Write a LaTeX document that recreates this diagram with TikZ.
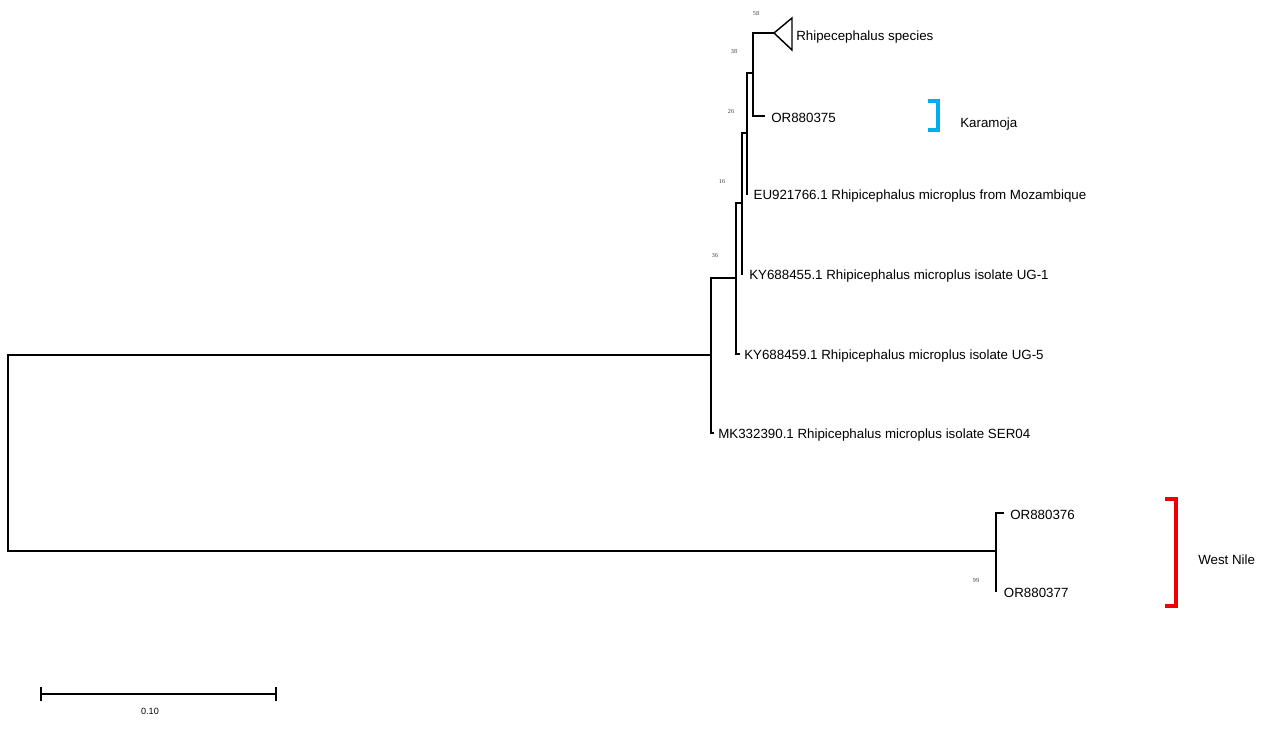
\documentclass[tikz,border=0pt]{standalone}
\usepackage{fontspec}
\setmainfont{Liberation Sans}
\newfontfamily\bootfont{Liberation Serif}
\usetikzlibrary{positioning}
\definecolor{karablue}{RGB}{0,174,239}
\definecolor{nilered}{RGB}{240,0,0}

\tikzset{
  branch/.style={line width=1.1pt},
  taxon/.style={inner sep=0pt, yshift=-1.5pt, font=\fontsize{10}{12}\selectfont},
  boot/.style={inner sep=0pt, font=\bootfont\fontsize{4.6}{5}\selectfont, text=black!75},
  clade/.style={line width=2.4pt},
}

\begin{document}
\begin{tikzpicture}[x=0.75pt, y=-0.75pt]
  \useasboundingbox (0,0) rectangle (1264,745);

  % internal nodes
  \coordinate (root) at (8,453);
  \coordinate (nA) at (711,355);
  \coordinate (nB) at (736,278);
  \coordinate (nC) at (742,203);
  \coordinate (nD) at (747,133);
  \coordinate (nE) at (753,73);
  \coordinate (nWN) at (996,551);

  % tips
  \coordinate (tRhi) at (774,33);
  \coordinate (t375) at (765,116);
  \coordinate (t766) at (748,194);
  \coordinate (t455) at (743,274);
  \coordinate (t459) at (740,354);
  \coordinate (t390) at (714,433);
  \coordinate (t376) at (1004,513);
  \coordinate (t377) at (997,591);

  % branches
  \draw[branch] (root) |- (nA);
  \draw[branch] (root) |- (nWN);
  \draw[branch] (nA) |- (nB);
  \draw[branch] (nA) |- (t390);
  \draw[branch] (nB) |- (nC);
  \draw[branch] (nB) |- (t459);
  \draw[branch] (nC) |- (nD);
  \draw[branch] (nC) |- (t455);
  \draw[branch] (nD) |- (nE);
  \draw[branch] (nD) |- (t766);
  \draw[branch] (nE) |- (tRhi);
  \draw[branch] (nE) |- (t375);
  \draw[branch] (nWN) |- (t376);
  \draw[branch] (nWN) |- (t377);

  % collapsed clade
  \draw[branch] (tRhi) -- ++(18,-15) coordinate (rhiTop) -- ++(0,32) -- cycle;
  \coordinate (rhiBase) at (792,35);

  % taxon labels
  \node[taxon, right=3pt of rhiBase] (lRhi) {Rhipecephalus species};
  \node[taxon, right=4.5pt of t375] (l375) {OR880375};
  \node[taxon, right=4pt of t766] (l766) {EU921766.1 Rhipicephalus microplus from Mozambique};
  \node[taxon, right=4.5pt of t455] (l455) {KY688455.1 Rhipicephalus microplus isolate UG-1};
  \node[taxon, right=3pt of t459] (l459) {KY688459.1 Rhipicephalus microplus isolate UG-5};
  \node[taxon, right=3pt of t390] (l390) {MK332390.1 Rhipicephalus microplus isolate SER04};
  \node[taxon, right=4.5pt of t376] (l376) {OR880376};
  \node[taxon, right=5pt of t377] (l377) {OR880377};

  % bootstrap values
  \node[boot] (b58) at (756,13) {58};
  \node[boot] (b38) at (734,51) {38};
  \node[boot] (b26) at (731,112) {26};
  \node[boot] (b16) at (722,182) {16};
  \node[boot] (b36) at (715,256) {36};
  \node[boot] (b99) at (976,580) {99};

  % groups
  \coordinate (kTop) at (928,101);
  \coordinate (kBot) at (928,130);
  \draw[clade, karablue] (kTop) -| (938,130) -- (kBot);
  \node[taxon, anchor=west] (kara) at (960,122) {Karamoja};

  \coordinate (wTop) at (1165,499);
  \coordinate (wBot) at (1165,606);
  \draw[clade, nilered] (wTop) -| (1176,606) -- (wBot);
  \node[taxon, anchor=west] (wnile) at (1198,558) {West Nile};

  % scale bar
  \coordinate (sL) at (41,694);
  \coordinate (sR) at (276,694);
  \draw[branch] (sL) -- (sR);
  \draw[branch] ([yshift=-5pt]sL) -- ([yshift=5pt]sL);
  \draw[branch] ([yshift=-5pt]sR) -- ([yshift=5pt]sR);
  \node[inner sep=0pt, font=\fontsize{6.8}{8}\selectfont] (scale) at (150,711) {0.10};
\end{tikzpicture}
\end{document}
